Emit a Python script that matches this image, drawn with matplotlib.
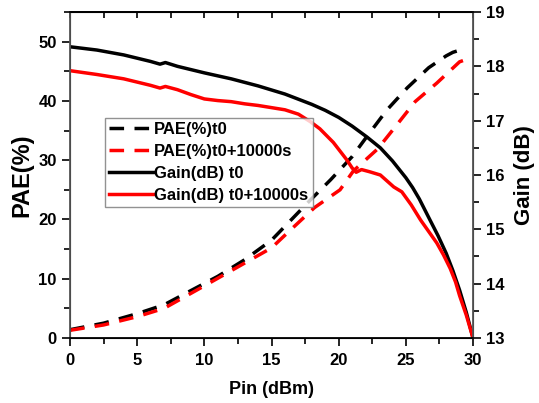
import matplotlib
matplotlib.use("Agg")
import matplotlib.pyplot as plt
from matplotlib.ticker import MultipleLocator

plt.rcParams['font.family'] = ['Liberation Sans', 'DejaVu Sans']
plt.rcParams['font.weight'] = 'bold'

# PAE (%) t0
pae_t0_x = [0, 2.5, 5, 7, 9, 11, 13, 15, 17.9, 19.4, 21.0, 22.2, 23.6, 25.1, 26.7, 28.0, 28.5, 29.2]
pae_t0_y = [1.4, 2.5, 4.1, 5.6, 8.0, 10.4, 13.2, 16.5, 23.3, 26.7, 30.6, 34.3, 38.5, 42.2, 45.6, 47.6, 48.2, 48.7]
# PAE (%) t0+10000s
pae_t1_x = [0, 2.5, 5, 7, 10, 12.5, 15, 16.4, 18.2, 20.1, 21.1, 22.9, 24.2, 25.7, 27.3, 29.0, 30.0]
pae_t1_y = [1.3, 2.2, 3.6, 5.0, 8.8, 12.0, 15.2, 18.2, 22.0, 25.0, 28.2, 31.9, 35.6, 39.9, 43.0, 46.6, 47.4]
# Gain (dB) t0
gain_t0_x = [0, 2, 4, 6, 6.7, 7.1, 8, 10, 12, 14, 16, 18, 19, 20, 21, 22.1, 23.1, 24, 25, 25.5, 26, 26.8, 27.4, 28.0, 28.5, 29.0, 29.5, 30.0]
gain_t0_y = [18.36, 18.3, 18.21, 18.09, 18.04, 18.07, 18.0, 17.88, 17.77, 17.64, 17.49, 17.3, 17.19, 17.06, 16.9, 16.7, 16.5, 16.26, 15.95, 15.77, 15.56, 15.17, 14.88, 14.56, 14.24, 13.88, 13.47, 13.0]
# Gain (dB) t0+10000s
gain_t1_x = [0, 2, 4, 6, 6.7, 7.1, 8, 9, 10, 11, 12, 13, 14, 15, 16, 17, 17.9, 18.6, 19.6, 20.6, 21.0, 21.3, 21.7, 22.3, 23.1, 24.1, 24.7, 25.4, 26.1, 26.7, 27.3, 27.8, 28.3, 28.7, 29.0, 29.5, 30.0]
gain_t1_y = [17.92, 17.85, 17.77, 17.65, 17.6, 17.63, 17.57, 17.48, 17.4, 17.37, 17.35, 17.31, 17.28, 17.24, 17.2, 17.12, 16.98, 16.85, 16.6, 16.28, 16.13, 16.05, 16.1, 16.06, 16.0, 15.78, 15.69, 15.45, 15.17, 14.96, 14.75, 14.53, 14.28, 14.03, 13.78, 13.42, 13.0]

fig = plt.figure(figsize=(5.39, 4.03), dpi=100)
ax = fig.add_axes([0.1299, 0.1613, 0.7477, 0.8089])
ax2 = ax.twinx()

lw = 2.5
l1, = ax.plot(pae_t0_x, pae_t0_y, color='black', lw=lw, dashes=(4.2, 3.0), label='PAE(%)t0')
l2, = ax.plot(pae_t1_x, pae_t1_y, color='#ff0000', lw=lw, dashes=(4.2, 3.0), label='PAE(%)t0+10000s')
l3, = ax2.plot(gain_t0_x, gain_t0_y, color='black', lw=lw, label='Gain(dB) t0')
l4, = ax2.plot(gain_t1_x, gain_t1_y, color='#ff0000', lw=lw, label='Gain(dB) t0+10000s')

ax.set_xlim(0, 30)
ax.set_ylim(0, 55)
ax2.set_ylim(13, 19)

ax.xaxis.set_major_locator(MultipleLocator(5))
ax.xaxis.set_minor_locator(MultipleLocator(2.5))
ax.yaxis.set_major_locator(MultipleLocator(10))
ax.yaxis.set_minor_locator(MultipleLocator(5))
ax2.yaxis.set_major_locator(MultipleLocator(1))
ax2.yaxis.set_minor_locator(MultipleLocator(0.5))

ax.tick_params(axis='x', which='both', direction='out', top=False, labelsize=12, width=1.2, colors='black')
ax.tick_params(axis='x', which='major', length=6, pad=5)
ax.tick_params(axis='x', which='minor', length=4)
ax.tick_params(axis='y', which='both', direction='out', labelsize=12, width=1.2, colors='black')
ax.tick_params(axis='y', which='major', length=6)
ax.tick_params(axis='y', which='minor', length=4)
ax2.tick_params(axis='y', which='both', direction='out', labelsize=12, width=1.2)
ax2.tick_params(axis='y', which='major', length=6)
ax2.tick_params(axis='y', which='minor', length=4)

# top ticks inward
secx = ax.secondary_xaxis('top')
secx.xaxis.set_major_locator(MultipleLocator(2.5))
secx.tick_params(direction='in', length=4, width=1.2, labeltop=False)

for sp in ['left', 'right']:
    ax2.spines[sp].set_color('#555555')
    ax2.spines[sp].set_linewidth(1.3)
for sp in ['top', 'bottom']:
    ax2.spines[sp].set_color('black')
    ax2.spines[sp].set_linewidth(1.3)
secx.spines['top'].set_linewidth(1.3)

for lab in ax.get_xticklabels() + ax.get_yticklabels() + ax2.get_yticklabels():
    lab.set_fontweight('bold')

ax.set_xlabel('Pin (dBm)', fontsize=13, fontweight='bold', labelpad=9)
ax.set_ylabel('PAE(%)', fontsize=17, fontweight='bold', labelpad=4)
ax2.set_ylabel('Gain (dB)', fontsize=16, fontweight='bold', labelpad=7)

leg = ax2.legend(handles=[l1, l2, l3, l4], loc='upper left', bbox_to_anchor=(0.087, 0.675),
                 fontsize=12, frameon=True, fancybox=False, handlelength=2.6,
                 handletextpad=0.1, borderpad=0.25, labelspacing=0.42, borderaxespad=0)
leg.get_frame().set_edgecolor('#777777')
leg.get_frame().set_linewidth(1.0)
for t in leg.get_texts():
    t.set_fontweight('bold')
leg.set_zorder(10)

fig.savefig('out.png', dpi=100)
